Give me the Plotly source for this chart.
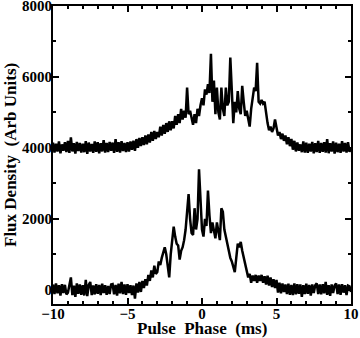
import numpy as np
import plotly.graph_objects as go

# Pulse phase grid, 0.1 ms bins from -10 to 10 ms
phase = np.round(np.arange(-10, 10.05, 0.1), 1)

# Upper profile (offset by 4000 in the original plot)
flux_upper = [
    4150, 3870, 4120, 3900, 4180, 3850, 4100, 3920, 4160, 3880,
    4200, 3860, 4300, 3900, 4130, 3840, 4170, 3910, 4140, 3870,
    4120, 3880, 4190, 3830, 4150, 3900, 4110, 3860, 4180, 3890,
    4160, 3850, 4130, 3900, 4220, 3870, 4140, 3880, 4170, 3920,
    4150, 3860, 4250, 3890, 4160, 3870, 4190, 3910, 4140, 3880,
    4160, 3900, 4180, 3950, 4200, 3920, 4250, 4000, 4280, 4050,
    4300, 4080, 4350, 4100, 4380, 4150, 4450, 4200, 4480, 4250,
    4450, 4300, 4600, 4350, 4650, 4400, 4700, 4450, 4750, 4500,
    4750, 4550, 4900, 4650, 4950, 4700, 5100, 4800, 5050, 4850,
    5700, 4950, 5050, 4800, 4650, 4950, 4700, 5100, 4900, 5200,
    5400, 5200, 5650, 5500, 5800, 5550, 6650, 5300, 5900, 4950,
    5700, 5000, 4800, 5700, 5100, 4900, 5700, 5200, 5300, 6550,
    5600, 4700, 5300, 5000, 5600, 5100, 4950, 5750, 5300, 4900,
    5050, 4750, 4600, 5100, 5400, 5700, 5600, 6400, 5300, 5250,
    5350, 5250, 5300, 4900, 4700, 4500, 4600, 4450, 4550, 4800,
    4500, 4350, 4450, 4250, 4400, 4200, 4350, 4100, 4300, 4050,
    4250, 3950, 4200, 3900, 4150, 3920, 4100, 3880, 4180, 3870,
    4150, 3860, 4120, 3900, 4170, 3850, 4130, 3880, 4200, 3860,
    4140, 3890, 4160, 3870, 4250, 3850, 4130, 3900, 4180, 3840,
    4150, 3880, 4120, 3860, 4190, 3900, 4140, 3870, 4160, 3890,
    4000,
]

# Lower profile
flux_lower = [
    150, -120, 180, -100, 130, -160, 160, -90, 140, -130,
    -80, 170, 350, -150, 120, -200, 180, -110, 150, -140,
    130, -160, 280, -180, 140, 220, -150, 120, -130, 160,
    -110, 140, -150, 170, -90, 130, -140, 110, -120, 150,
    160, -130, 140, -160, 170, -100, 220, -120, 150, -140,
    160, -90, 130, -150, 120, -250, 180, -80, 220, -60,
    250, 50, 300, 120, 420, 250, 550, 350, 680, 450,
    500, 800, 700, 900, 1050, 1200, 1000, 700, 350, 1000,
    1500, 1780, 1500, 1300, 1250, 850, 1100, 1200, 1400, 1700,
    2200, 2700, 2000, 1600, 1550, 2300, 1700, 2000, 3400, 2500,
    1700, 1500, 2000, 1800, 2800, 2100, 1600, 1900, 1700, 1450,
    1900, 1600, 1400, 2300, 2200, 1700, 1500, 1200, 1000, 900,
    800, 600, 500, 900, 1300, 1200, 1350, 1100, 900, 700,
    600, 350, 450, 200, 400, 250, 420, 200, 400, 250,
    420, 200, 380, 150, 400, 120, 350, 80, 300, 50,
    280, -80, 200, -100, 180, -60, 150, -120, 170, -140,
    140, -150, 180, -130, 160, -110, 150, -200, 130, -120,
    170, -110, 140, -160, 150, -90, 130, 180, -120, 150,
    -130, 160, -100, 220, -140, 130, -170, 150, -90, 120,
    180, -120, 150, -140, 160, -80, 130, -150, 120, 100,
    -60,
]

fig = go.Figure()

for flux in (flux_upper, flux_lower):
    fig.add_trace(go.Scatter(
        x=phase, y=flux, mode="lines",
        line=dict(color="black", width=2.5),
        showlegend=False,
    ))

axis_style = dict(
    showline=True, linecolor="black", linewidth=2, mirror="ticks",
    ticks="inside", ticklen=6, tickwidth=1.5, tickcolor="black",
    showgrid=False, zeroline=False, automargin=False,
    ticklabeloverflow="allow",
    tickfont=dict(family="Liberation Serif", size=15, color="black",
                  weight="bold"),
)

fig.update_xaxes(
    range=[-10, 10], tickvals=[-10, -5, 0, 5, 10], ticklabelstandoff=-5,
    minor=dict(dtick=1, ticks="inside", ticklen=3, tickcolor="black"),
    **axis_style,
)
fig.update_yaxes(
    range=[-400, 8000], tickvals=[0, 2000, 4000, 6000, 8000],
    ticklabelstandoff=-4,
    minor=dict(dtick=1000, tick0=0, ticks="inside", ticklen=3,
               tickcolor="black"),
    **axis_style,
)

# Axis titles as annotations so they sit where the original puts them
title_font = dict(family="Liberation Serif", size=17, color="black",
                  weight="bold")
fig.add_annotation(text="Pulse\u00a0 Phase\u00a0 (ms)", xref="paper",
                   yref="paper", x=0.5, y=0, yanchor="middle", yshift=-24,
                   showarrow=False, font=title_font)
fig.add_annotation(text="Flux Density\u00a0 (Arb Units)", xref="paper",
                   yref="paper", x=0, y=0.5, xanchor="center", xshift=-43,
                   textangle=-90, showarrow=False, font=title_font)

fig.update_layout(
    width=360, height=338,
    margin=dict(l=53, r=9, t=6, b=34),
    plot_bgcolor="white", paper_bgcolor="white",
)

fig.write_html("out.html", config={"displayModeBar": False},
               post_script="document.body.style.margin='0';")
